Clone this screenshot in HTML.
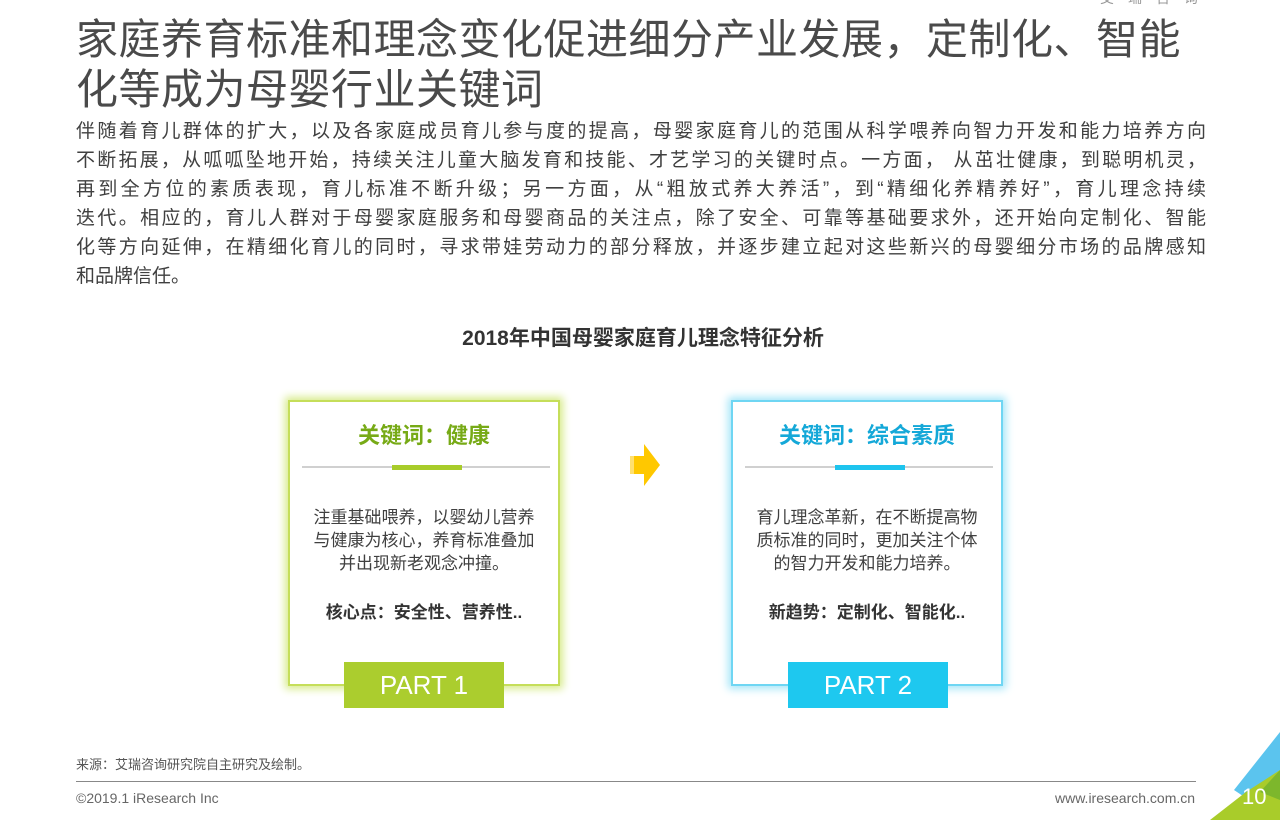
<!DOCTYPE html>
<html><head><meta charset="utf-8"><style>
*{margin:0;padding:0;box-sizing:border-box}
body{width:1280px;height:820px;background:#fff;position:relative;overflow:hidden;font-family:"Liberation Sans","Noto Sans CJK SC",sans-serif;color:#3a3a3a}
.a{position:absolute}
.t{left:76px;font-size:42px;color:#4a4a4a;white-space:nowrap;line-height:50px;letter-spacing:0.5px}
.b div{width:1130px;text-align:justify;text-align-last:justify;font-size:19px;line-height:29px;color:#404040;white-space:nowrap}
.card{background:#fff;width:272px;height:286px}
.ct{width:100%;text-align:center;font-size:22px;font-weight:bold;top:16px}
.ln{height:2px;background:#d0d0d0;left:12px;width:248px;top:64px}
.sg{height:5px;top:63px;width:70px;left:102px}
.tx{width:100%;text-align:center;font-size:17px;line-height:23px;top:104px;color:#404040;letter-spacing:0}
.bt{width:100%;text-align:center;font-size:17px;font-weight:bold;top:196px;color:#333}
.pt{width:160px;height:46px;color:#fff;font-size:26px;text-align:center;line-height:46px}
</style></head><body>
<div class="a" style="left:1100px;top:-12px;font-size:14px;color:#999;letter-spacing:14px">艾瑞咨询</div>
<div class="a t" style="top:15px">家庭养育标准和理念变化促进细分产业发展，定制化、智能</div>
<div class="a t" style="top:65px">化等成为母婴行业关键词</div>
<div class="a b" style="left:76px;top:117px">
<div>伴随着育儿群体的扩大，以及各家庭成员育儿参与度的提高，母婴家庭育儿的范围从科学喂养向智力开发和能力培养方向</div>
<div>不断拓展，从呱呱坠地开始，持续关注儿童大脑发育和技能、才艺学习的关键时点。一方面， 从茁壮健康，到聪明机灵，</div>
<div>再到全方位的素质表现，育儿标准不断升级；另一方面，从“粗放式养大养活”，到“精细化养精养好”，育儿理念持续</div>
<div>迭代。相应的，育儿人群对于母婴家庭服务和母婴商品的关注点，除了安全、可靠等基础要求外，还开始向定制化、智能</div>
<div>化等方向延伸，在精细化育儿的同时，寻求带娃劳动力的部分释放，并逐步建立起对这些新兴的母婴细分市场的品牌感知</div>
<div style="text-align-last:left">和品牌信任。</div>
</div>
<div class="a" style="left:0;width:1286px;top:322px;text-align:center;font-size:21px;font-weight:bold;color:#333">2018年中国母婴家庭育儿理念特征分析</div>

<div class="a card" style="left:288px;top:400px;border:2px solid #c5de5a;box-shadow:0 0 8px 3px #d7eb8a">
<div class="a ct" style="color:#77aa16">关键词：健康</div>
<div class="a ln"></div><div class="a sg" style="background:#a8cc2a"></div>
<div class="a tx">注重基础喂养，以婴幼儿营养<br>与健康为核心，养育标准叠加<br>并出现新老观念冲撞。</div>
<div class="a bt">核心点：安全性、营养性..</div>
</div>
<div class="a pt" style="left:344px;top:662px;background:#abcd2e">PART 1</div>

<div class="a card" style="left:731px;top:400px;border:2px solid #6fd6f3;box-shadow:0 0 8px 3px #a6e6f8">
<div class="a ct" style="color:#14a8d8">关键词：综合素质</div>
<div class="a ln"></div><div class="a sg" style="background:#1ec4ee"></div>
<div class="a tx">育儿理念革新，在不断提高物<br>质标准的同时，更加关注个体<br>的智力开发和能力培养。</div>
<div class="a bt">新趋势：定制化、智能化..</div>
</div>
<div class="a pt" style="left:788px;top:662px;background:#1ec8ef">PART 2</div>

<svg class="a" style="left:628px;top:444px" width="34" height="46"><polygon points="2,12 16,12 16,0 32,21 16,42 16,30 2,30" fill="#ffc800"/><rect x="2" y="12" width="4" height="18" fill="#ffe070"/></svg>

<div class="a" style="left:76px;top:754px;font-size:13px;color:#555">来源：艾瑞咨询研究院自主研究及绘制。</div>
<div class="a" style="left:76px;top:781px;width:1120px;height:1px;background:#888"></div>
<div class="a" style="left:76px;top:790px;font-size:14px;color:#666">©2019.1 iResearch Inc</div>
<div class="a" style="left:1055px;top:790px;font-size:14px;color:#666">www.iresearch.com.cn</div>
<svg class="a" style="left:1200px;top:730px" width="80" height="90">
<polygon points="80,2 80,40 46,68 34,60" fill="#5bc4ee"/>
<polygon points="80,40 80,90 10,90 46,62" fill="#a9cc2a"/>
<polygon points="80,40 80,70 60,62" fill="#7db72c"/>
</svg>
<div class="a" style="left:1242px;top:784px;font-size:22px;color:#fff">10</div>
</body></html>
